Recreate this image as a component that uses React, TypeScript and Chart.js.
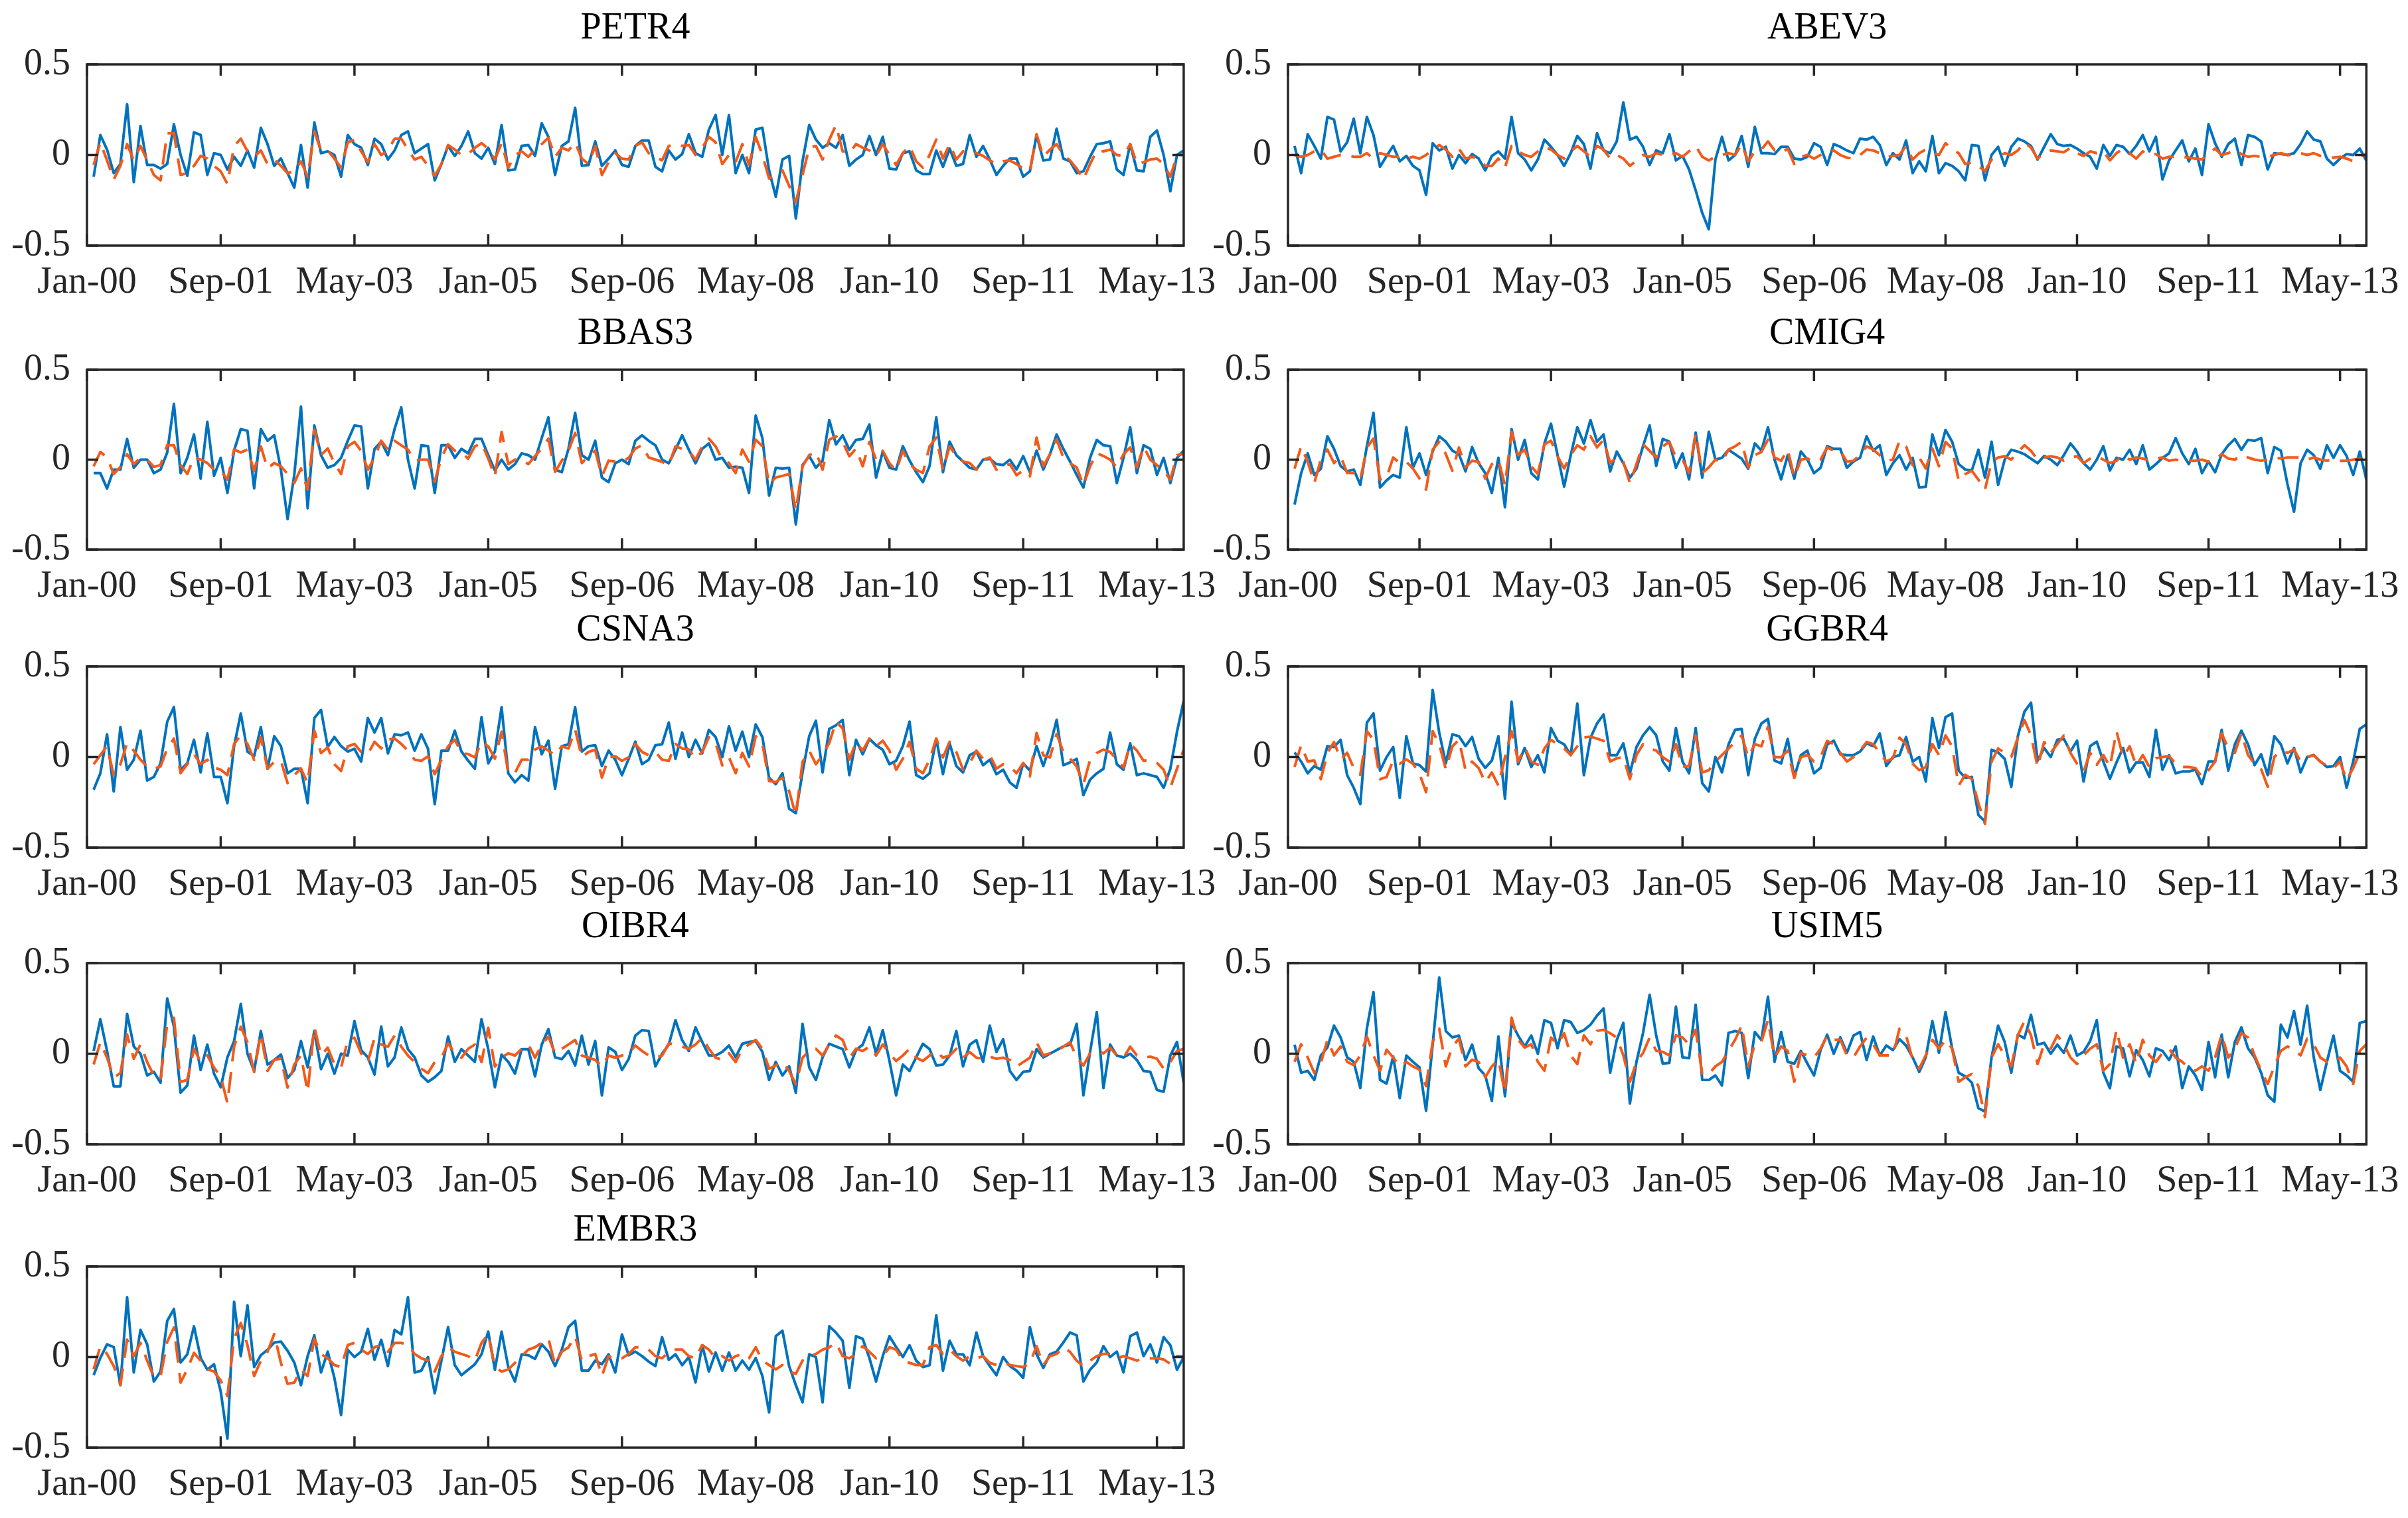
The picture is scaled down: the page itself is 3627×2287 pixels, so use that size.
import React, { useEffect, useRef } from 'react';
import { Chart, registerables } from 'chart.js';

Chart.register(...registerables);

// ---------- data ----------
const xTickMonths = [0, 20, 40, 60, 80, 100, 120, 140, 160];
const xTickLabels = ['Jan-00', 'Sep-01', 'May-03', 'Jan-05', 'Sep-06', 'May-08', 'Jan-10', 'Sep-11', 'May-13'];
const yTickValues = [-0.5, 0, 0.5];
const yTickLabels = ['-0.5', '0', '0.5'];
const xMin = 0;
const xMax = 164;
const firstMonth = 1;

const petr4Actual = [
  -0.12, 0.11, 0.03, -0.10, -0.05, 0.28, -0.15, 0.16, -0.055, -0.055,
  -0.075, -0.05, 0.17, 0.0, -0.115, 0.125, 0.11, -0.11, 0.01, 0.0,
  -0.08, -0.01, -0.06, 0.025, -0.07, 0.15, 0.06, -0.06, -0.02, -0.10,
  -0.18, 0.055, -0.18, 0.18, 0.01, 0.02, 0.0, -0.12, 0.11, 0.06,
  0.04, -0.055, 0.09, 0.06, -0.025, 0.025, 0.11, 0.13, 0.01, 0.035,
  0.06, -0.14, -0.05, 0.05, -0.005, 0.05, 0.13, 0.01, -0.02, 0.04,
  -0.05, 0.165, -0.085, -0.08, 0.05, 0.055, -0.005, 0.175, 0.10, -0.11,
  0.05, 0.075, 0.26, -0.06, -0.055, 0.075, -0.06, -0.02, 0.025, -0.055,
  -0.065, 0.05, 0.08, 0.08, -0.065, -0.09, 0.025, -0.025, 0.005, 0.115,
  0.01, -0.01, 0.14, 0.22, 0.0, 0.22, -0.10, 0.0, -0.10, 0.14,
  0.15, -0.085, -0.23, -0.025, -0.005, -0.35, -0.035, 0.165, 0.085, 0.04,
  0.065, 0.04, 0.11, -0.06, -0.025, 0.0, 0.105, 0.0, 0.10, -0.075,
  -0.08, 0.01, 0.02, -0.085, -0.105, -0.105, 0.025, -0.065, 0.035, -0.06,
  -0.05, 0.11, -0.01, 0.05, -0.025, -0.11, -0.06, -0.02, -0.02, -0.12,
  -0.09, 0.11, -0.03, -0.025, 0.145, -0.02, -0.035, -0.10, -0.09, -0.01,
  0.06, 0.065, 0.075, -0.08, -0.11, 0.06, -0.085, -0.09, 0.10, 0.135,
  0.0, -0.20, 0.0, 0.025,
];
const petr4Model = [
  -0.055, 0.07, -0.03, -0.135, -0.06, 0.06, -0.03, 0.05, -0.03, -0.11,
  -0.14, 0.12, 0.12, -0.11, -0.10, -0.06, -0.005, -0.02, -0.06, -0.09,
  -0.16, 0.05, 0.09, 0.02, -0.01, 0.025, -0.05, -0.025, -0.06, -0.10,
  -0.09, -0.035, -0.12, 0.13, 0.025, 0.025, -0.02, -0.07, 0.07, 0.085,
  0.02, -0.04, 0.06, 0.0, 0.025, 0.09, 0.09, 0.03, -0.025, -0.01,
  -0.06, -0.115, -0.05, 0.055, 0.03, 0.0, 0.005, 0.04, 0.065, 0.035,
  -0.025, 0.065, -0.07, 0.0, 0.02, -0.01, 0.03, 0.06, 0.095, -0.01,
  0.04, 0.025, 0.07, -0.02, -0.05, 0.05, -0.11, -0.04, 0.01, -0.02,
  -0.025, 0.05, 0.07, 0.01, -0.01, -0.03, 0.05, 0.06, 0.05, 0.055,
  0.0, 0.04, 0.10, 0.07, -0.05, 0.0, -0.04, 0.06, -0.055, 0.10,
  0.0, -0.13, -0.11, -0.085, -0.17, -0.26, -0.11, 0.04, 0.05, -0.025,
  0.085, 0.165, 0.02, 0.01, 0.06, 0.04, 0.025, -0.005, 0.06, 0.0,
  -0.055, 0.01, 0.05, -0.035, -0.07, 0.0, 0.085, -0.02, 0.06, -0.025,
  0.02, 0.025, 0.01, -0.005, -0.03, -0.05, -0.035, -0.03, -0.05, -0.075,
  -0.09, 0.115, -0.01, 0.03, 0.06, 0.0, -0.03, -0.075, -0.135, -0.05,
  0.025, 0.02, 0.03, 0.0, -0.005, 0.06, -0.05, -0.04, -0.025, -0.02,
  -0.05, -0.12, 0.0, 0.0,
];

const abev3Actual = [
  0.05, -0.10, 0.115, 0.05, -0.02, 0.21, 0.195, 0.02, 0.07, 0.20,
  0.01, 0.21, 0.11, -0.065, -0.005, 0.05, -0.035, -0.005, -0.06, -0.085,
  -0.22, 0.065, 0.025, 0.045, -0.075, 0.0, -0.045, 0.005, -0.02, -0.085,
  -0.005, 0.02, -0.02, 0.21, 0.01, -0.025, -0.085, -0.025, 0.085, 0.045,
  0.0, -0.06, 0.01, 0.105, 0.06, -0.075, 0.12, 0.025, 0.01, 0.075,
  0.29, 0.085, 0.10, 0.045, -0.055, 0.025, 0.01, 0.115, -0.03, -0.005,
  -0.08, -0.195, -0.32, -0.41, -0.025, 0.10, -0.03, 0.0, 0.105, -0.065,
  0.155, 0.01, 0.01, 0.005, 0.045, 0.045, -0.02, -0.025, -0.01, 0.065,
  0.045, -0.055, 0.06, 0.045, 0.025, 0.01, 0.09, 0.085, 0.10, 0.055,
  -0.055, 0.01, -0.025, 0.08, -0.10, -0.035, -0.09, 0.105, -0.10, -0.045,
  -0.06, -0.09, -0.14, 0.055, 0.05, -0.14, 0.0, 0.045, -0.06, 0.045,
  0.09, 0.075, 0.05, -0.025, 0.045, 0.115, 0.06, 0.05, 0.055, 0.035,
  0.01, -0.01, -0.075, 0.055, -0.005, 0.055, 0.045, 0.005, 0.05, 0.11,
  0.02, 0.10, -0.135, -0.03, 0.025, 0.08, -0.035, 0.035, -0.11, 0.17,
  0.065, -0.01, 0.06, 0.09, -0.055, 0.11, 0.10, 0.075, -0.08, 0.01,
  0.005, 0.0, 0.01, 0.06, 0.13, 0.085, 0.075, -0.02, -0.055, -0.02,
  0.005, 0.0, 0.035, -0.03,
];
const abev3Model = [
  0.0, -0.01, 0.0, 0.02, 0.03, -0.02, -0.01, 0.0, 0.0, -0.01,
  -0.01, 0.01, -0.02, 0.01, 0.0, -0.01, -0.01, -0.02, -0.01, -0.02,
  0.0, 0.03, 0.055, 0.03, -0.01, 0.035, -0.02, -0.01, -0.02, -0.06,
  -0.06, -0.02, -0.07, 0.05, 0.02, 0.0, -0.01, 0.02, 0.045, 0.03,
  0.0, -0.02, 0.02, 0.05, 0.02, -0.01, 0.05, 0.03, -0.02, 0.0,
  -0.02, -0.06, -0.03, 0.0, -0.01, 0.01, 0.0, 0.0, 0.01, -0.01,
  0.02, 0.05, -0.01, -0.03, -0.01, 0.0, 0.01, 0.0, 0.06, -0.035,
  0.02, 0.03, 0.075, 0.025, 0.01, 0.035, -0.05, -0.01, 0.0, -0.02,
  0.0, 0.01, 0.025, 0.0, -0.015, -0.02, 0.0, 0.03, 0.025, 0.01,
  -0.01, -0.005, 0.0, 0.05, -0.025, 0.01, 0.03, 0.01, 0.0, 0.065,
  0.03, 0.01, -0.05, -0.04, -0.06, -0.09, -0.025, -0.01, 0.01, 0.0,
  0.025, 0.07, 0.04, -0.02, 0.01, 0.025, 0.02, 0.015, 0.04, 0.01,
  -0.005, 0.02, 0.01, 0.02, -0.03, 0.01, 0.035, 0.01, -0.02, 0.02,
  0.0, 0.005, -0.02, -0.01, -0.01, -0.01, -0.015, -0.02, -0.025, 0.01,
  0.035, 0.0, 0.01, 0.03, 0.005, -0.01, -0.005, -0.01, -0.01, 0.0,
  0.01, 0.0, 0.0, 0.01, 0.0, 0.01, -0.005, -0.01, -0.015, -0.01,
  -0.02, -0.035, -0.01, 0.005,
];

const bbas3Actual = [
  -0.075, -0.075, -0.16, -0.055, -0.055, 0.115, -0.045, 0.0, 0.0, -0.075,
  -0.055, 0.04, 0.31, -0.075, 0.01, 0.14, -0.105, 0.21, -0.09, 0.01,
  -0.185, 0.05, 0.17, 0.16, -0.16, 0.17, 0.105, 0.135, -0.055, -0.33,
  -0.085, 0.295, -0.27, 0.19, 0.025, -0.045, -0.03, 0.01, 0.105, 0.19,
  0.185, -0.16, 0.06, 0.10, 0.025, 0.17, 0.29, 0.0, -0.16, 0.08,
  0.075, -0.185, 0.08, 0.08, 0.01, 0.06, 0.035, 0.115, 0.115, 0.025,
  -0.06, 0.0, -0.055, -0.025, 0.035, 0.025, 0.0, 0.12, 0.235, -0.055,
  -0.07, 0.06, 0.26, 0.025, 0.0, 0.105, -0.10, -0.125, -0.02, 0.0,
  -0.025, 0.105, 0.135, 0.105, 0.08, 0.0, -0.02, 0.055, 0.135, 0.055,
  -0.02, 0.06, 0.09, 0.0, 0.01, -0.045, -0.04, -0.045, -0.185, 0.245,
  0.12, -0.20, -0.045, -0.05, -0.045, -0.36, -0.03, 0.02, -0.045, -0.005,
  0.22, 0.085, 0.135, 0.055, 0.11, 0.115, 0.195, -0.10, 0.045, -0.045,
  -0.055, 0.075, -0.005, -0.07, -0.125, -0.035, 0.235, -0.07, 0.10, 0.025,
  -0.01, -0.045, -0.055, 0.0, 0.005, -0.025, -0.03, 0.0, -0.055, 0.02,
  -0.07, 0.05, -0.055, 0.03, 0.14, 0.06, -0.01, -0.085, -0.155, 0.01,
  0.11, 0.08, 0.075, -0.13, 0.01, 0.18, -0.075, 0.08, 0.06, -0.085,
  0.01, -0.13, 0.01, 0.05,
];
const bbas3Model = [
  -0.037, 0.043, 0.012, -0.08, -0.04, 0.03, -0.025, 0.01, 0.0, -0.04,
  -0.03, 0.08, 0.08, -0.03, -0.08, 0.012, 0.0, -0.019, -0.056, -0.06,
  -0.111, 0.056, 0.04, 0.056, -0.062, 0.074, -0.049, -0.019, -0.037, -0.08,
  -0.13, -0.049, -0.167, 0.167, 0.025, 0.062, -0.02, -0.08, 0.074, 0.099,
  0.049, -0.056, 0.012, 0.105, 0.056, 0.105, 0.08, 0.056, -0.006, 0.0,
  0.0, -0.123, 0.012, 0.086, 0.05, 0.037, 0.006, 0.074, 0.093, 0.006,
  -0.093, 0.154, -0.025, 0.0, 0.0, -0.025, 0.02, 0.062, 0.117, -0.068,
  -0.006, 0.049, 0.148, -0.019, 0.02, 0.049, -0.093, -0.006, -0.01, -0.012,
  0.01, 0.062, 0.08, 0.012, 0.0, -0.012, -0.031, 0.074, 0.06, 0.049,
  0.0, 0.074, 0.117, 0.074, 0.0, -0.019, -0.074, 0.056, -0.012, 0.111,
  0.074, -0.136, -0.099, -0.09, -0.08, -0.284, -0.037, 0.025, 0.043, -0.056,
  0.111, 0.13, 0.099, 0.019, 0.062, -0.037, 0.099, 0.0, 0.049, -0.02,
  -0.062, 0.049, -0.025, -0.056, -0.074, 0.074, 0.123, -0.056, 0.074, 0.019,
  -0.01, -0.019, -0.056, 0.0, 0.012, -0.056, -0.037, -0.025, -0.086, -0.06,
  -0.093, 0.123, -0.037, 0.03, 0.111, 0.012, -0.02, -0.043, -0.142, -0.037,
  0.037, 0.02, 0.0, -0.043, 0.03, 0.068, -0.043, 0.074, 0.0, -0.031,
  -0.06, -0.111, 0.025, 0.031,
];

const cmig4Actual = [
  -0.25, -0.075, 0.035, -0.085, -0.05, 0.13, 0.06, -0.035, -0.065, -0.055,
  -0.14, 0.075, 0.26, -0.155, -0.115, -0.085, -0.10, 0.18, -0.045, 0.035,
  -0.085, 0.045, 0.13, 0.10, 0.05, 0.03, -0.065, 0.07, -0.02, -0.075,
  -0.185, 0.01, -0.265, 0.17, 0.0, 0.11, -0.075, -0.11, 0.09, 0.20,
  0.025, -0.15, 0.025, 0.18, 0.09, 0.22, 0.10, 0.14, -0.065, 0.045,
  -0.02, -0.10, -0.05, 0.075, 0.19, -0.035, 0.115, 0.10, -0.045, 0.035,
  -0.11, 0.15, -0.10, 0.155, 0.0, 0.01, 0.055, 0.03, 0.005, -0.05,
  0.09, 0.05, 0.18, 0.0, -0.11, 0.025, -0.105, 0.045, 0.0, -0.075,
  -0.045, 0.075, 0.06, 0.06, -0.045, -0.01, 0.01, 0.13, 0.05, 0.08,
  -0.085, -0.02, 0.025, -0.055, 0.01, -0.155, -0.15, 0.14, 0.025, 0.165,
  0.10, -0.025, -0.055, -0.06, 0.055, -0.10, 0.10, -0.14, 0.0, 0.055,
  0.045, 0.03, 0.005, -0.02, 0.02, 0.0, -0.03, 0.025, 0.09, 0.045,
  -0.02, -0.055, 0.0, 0.075, -0.06, 0.01, 0.0, 0.055, -0.025, 0.08,
  -0.055, -0.025, 0.01, 0.035, 0.12, 0.035, -0.025, 0.06, -0.075, -0.01,
  -0.07, 0.03, 0.08, 0.115, 0.055, 0.11, 0.105, 0.12, -0.075, 0.07,
  0.05, -0.135, -0.29, -0.02, 0.055, 0.025, -0.05, 0.08, 0.01, 0.08,
  0.02, -0.085, 0.045, -0.11,
];
const cmig4Model = [
  -0.05, 0.074, -0.012, -0.13, 0.0, 0.056, -0.019, 0.019, -0.074, -0.074,
  -0.111, 0.068, 0.117, -0.111, -0.099, 0.012, -0.019, -0.012, -0.049, -0.105,
  -0.167, 0.056, 0.099, 0.031, -0.062, 0.068, -0.043, -0.006, -0.012, -0.105,
  -0.025, 0.0, -0.142, 0.154, 0.025, 0.056, -0.037, -0.08, 0.086, 0.105,
  0.019, -0.049, 0.025, 0.08, 0.056, 0.13, 0.068, 0.111, -0.019, 0.012,
  -0.012, -0.13, -0.025, 0.086, 0.049, 0.012, 0.074, 0.099, 0.012, 0.0,
  -0.074, 0.148, -0.074, -0.043, 0.0, -0.012, 0.056, 0.074, 0.099, -0.043,
  0.025, 0.043, 0.111, 0.012, -0.006, 0.056, -0.099, 0.0, 0.006, -0.012,
  0.0, 0.068, 0.049, 0.049, -0.012, -0.006, 0.025, 0.074, 0.056, 0.025,
  -0.006, 0.0, 0.105, 0.074, -0.031, 0.012, -0.049, 0.062, -0.037, 0.099,
  0.062, -0.117, -0.08, -0.062, -0.111, -0.167, -0.012, 0.012, 0.019, 0.0,
  0.043, 0.08, 0.049, 0.0, 0.012, 0.019, 0.012, -0.006, 0.012, 0.019,
  -0.019, 0.006, 0.019, 0.0, -0.019, -0.006, 0.025, 0.0, 0.012, 0.006,
  -0.006, 0.006, 0.012, -0.006, 0.0, -0.006, -0.006, -0.006, 0.0, -0.012,
  0.0, 0.031, 0.006, 0.0, 0.025, 0.012, 0.0, -0.006, 0.0, 0.012,
  0.006, 0.012, 0.012, 0.012, 0.0, 0.012, 0.0, -0.006, 0.0, -0.006,
  -0.006, 0.0, 0.006, 0.012,
];

const csna3Actual = [
  -0.18, -0.09, 0.125, -0.19, 0.165, -0.07, -0.015, 0.145, -0.13, -0.11,
  -0.035, 0.195, 0.275, -0.07, -0.035, 0.095, -0.085, 0.13, -0.11, -0.11,
  -0.255, 0.06, 0.24, 0.03, 0.005, 0.165, -0.065, 0.115, 0.06, -0.09,
  -0.065, -0.065, -0.255, 0.215, 0.26, 0.055, 0.11, 0.06, 0.03, 0.045,
  -0.025, 0.215, 0.135, 0.215, 0.02, 0.125, 0.12, 0.135, 0.035, 0.125,
  0.045, -0.26, 0.035, 0.035, 0.145, 0.03, -0.02, -0.065, 0.22, -0.035,
  0.03, 0.275, -0.09, -0.14, -0.10, -0.13, 0.165, 0.015, 0.09, -0.175,
  0.06, 0.07, 0.275, 0.03, 0.06, 0.065, -0.05, 0.035, -0.015, -0.10,
  -0.01, 0.085, -0.04, -0.015, 0.065, 0.07, 0.19, -0.01, 0.135, 0.0,
  0.095, 0.02, 0.15, 0.11, 0.0, 0.17, 0.035, 0.14, 0.0, 0.18,
  0.11, -0.115, -0.15, -0.09, -0.285, -0.31, -0.085, 0.115, 0.20, -0.085,
  0.155, 0.175, 0.205, -0.10, 0.095, 0.015, 0.10, 0.065, 0.04, -0.04,
  -0.02, 0.06, 0.195, -0.10, -0.12, -0.09, 0.10, -0.095, 0.075, -0.05,
  -0.085, 0.01, 0.03, -0.045, -0.015, -0.095, -0.07, -0.14, -0.17, -0.035,
  -0.075, 0.06, -0.05, 0.06, 0.205, -0.045, -0.03, -0.01, -0.21, -0.125,
  -0.09, -0.065, 0.135, -0.04, -0.07, 0.075, -0.10, -0.09, -0.10, -0.11,
  -0.17, -0.065, 0.14, 0.31,
];
const csna3Model = [
  -0.04, 0.01, 0.06, -0.10, -0.04, 0.078, 0.035, -0.015, -0.052, -0.064,
  -0.052, 0.047, 0.102, -0.089, -0.04, 0.016, -0.04, -0.015, -0.058, -0.07,
  -0.10, 0.072, 0.121, 0.072, -0.015, 0.109, -0.064, -0.027, -0.021, -0.144,
  -0.10, -0.064, -0.144, 0.146, 0.022, 0.053, -0.04, -0.077, 0.059, 0.072,
  0.028, 0.016, 0.084, 0.047, 0.096, 0.102, 0.072, 0.035, -0.015, -0.021,
  0.004, -0.095, -0.015, 0.059, 0.096, 0.022, 0.016, -0.002, 0.084, 0.059,
  -0.009, 0.14, -0.089, -0.089, -0.015, -0.015, 0.041, 0.059, 0.035, 0.01,
  0.059, 0.047, 0.152, -0.002, 0.028, 0.041, -0.114, -0.002, 0.004, -0.021,
  -0.002, 0.072, 0.028, 0.01, 0.028, -0.015, -0.021, 0.072, 0.047, 0.041,
  -0.009, 0.028, 0.109, 0.078, -0.046, -0.002, -0.089, 0.022, -0.052, 0.115,
  0.072, -0.132, -0.138, -0.114, -0.188, -0.323, -0.027, 0.035, -0.04, 0.01,
  0.078, 0.195, 0.158, -0.015, 0.084, 0.035, 0.102, 0.059, 0.09, 0.035,
  -0.07, -0.009, 0.084, -0.064, -0.089, -0.015, 0.102, -0.002, 0.084, 0.028,
  -0.07, -0.033, 0.035, -0.009, 0.01, -0.064, -0.04, -0.052, -0.089, -0.033,
  -0.107, 0.133, 0.01, -0.002, 0.127, 0.028, -0.009, -0.052, -0.151, -0.015,
  0.022, 0.041, 0.028, -0.015, -0.058, 0.072, 0.035, -0.021, -0.015, -0.033,
  -0.07, -0.169, -0.064, 0.041,
];

const ggbr4Actual = [
  0.025, -0.025, -0.09, -0.05, -0.07, 0.06, 0.055, 0.095, -0.10, -0.17,
  -0.26, 0.19, 0.24, -0.075, 0.0, 0.055, -0.225, 0.115, -0.035, -0.045,
  -0.08, 0.37, 0.135, -0.035, 0.125, 0.115, 0.06, 0.11, -0.01, -0.06,
  -0.02, 0.115, -0.23, 0.305, -0.04, 0.05, -0.055, 0.01, -0.085, 0.16,
  0.09, 0.07, 0.01, 0.295, -0.10, 0.105, 0.185, 0.235, 0.01, 0.01,
  0.075, -0.09, 0.055, 0.12, 0.165, 0.12, -0.025, -0.075, 0.16, -0.025,
  -0.09, 0.16, -0.145, -0.19, 0.0, -0.085, 0.07, 0.15, 0.155, -0.10,
  0.10, 0.185, 0.21, -0.02, -0.035, 0.10, -0.11, 0.01, 0.035, -0.09,
  -0.06, 0.07, 0.09, 0.015, 0.01, 0.01, 0.03, 0.075, 0.06, 0.13,
  -0.05, 0.0, 0.01, 0.11, -0.025, 0.0, -0.135, 0.215, 0.05, 0.22,
  0.24, -0.075, -0.115, -0.11, -0.32, -0.355, 0.04, 0.025, -0.01, -0.165,
  0.115, 0.25, 0.30, -0.02, 0.05, 0.0, 0.095, 0.10, 0.03, 0.09,
  -0.135, 0.06, 0.085, -0.025, -0.12, -0.03, 0.05, -0.085, -0.03, -0.03,
  -0.11, 0.15, -0.07, 0.01, -0.09, -0.08, -0.08, -0.07, -0.15, -0.025,
  -0.025, 0.15, -0.075, 0.07, 0.145, 0.07, -0.045, 0.015, -0.10, 0.115,
  0.07, -0.035, 0.05, -0.085, 0.0, 0.01, -0.025, -0.055, -0.05, 0.0,
  -0.17, -0.025, 0.155, 0.18,
];
const ggbr4Model = [
  -0.055, 0.065, -0.025, -0.019, -0.122, 0.023, 0.083, -0.013, 0.023, -0.061,
  -0.098, 0.143, 0.095, -0.122, -0.11, -0.019, -0.037, -0.013, -0.037, -0.092,
  -0.194, 0.143, 0.071, -0.067, 0.059, 0.095, -0.073, -0.025, -0.061, -0.14,
  -0.086, -0.158, -0.001, 0.143, -0.025, 0.053, -0.025, -0.043, 0.047, 0.095,
  0.071, 0.047, 0.011, 0.059, 0.107, 0.113, 0.101, 0.089, -0.025, -0.007,
  -0.001, -0.122, 0.011, 0.071, 0.047, 0.035, -0.001, -0.025, 0.071, -0.055,
  -0.049, 0.119, -0.086, -0.073, -0.025, 0.011, 0.047, 0.083, 0.119, -0.001,
  0.071, 0.059, 0.167, -0.001, -0.001, 0.035, -0.116, 0.0, 0.011, -0.025,
  0.0, 0.089, 0.071, 0.023, -0.025, 0.0, 0.035, 0.083, 0.071, 0.023,
  -0.025, -0.007, 0.107, 0.071, -0.037, -0.073, -0.055, 0.071, 0.011, 0.119,
  0.059, -0.158, -0.098, -0.122, -0.254, -0.369, -0.025, 0.047, 0.023, 0.0,
  0.107, 0.204, 0.119, -0.055, 0.083, 0.023, 0.071, 0.119, 0.023, -0.037,
  -0.08, 0.023, -0.043, 0.011, -0.055, 0.143, 0.0, 0.059, -0.049, 0.011,
  -0.055, -0.007, 0.0, 0.005, -0.037, -0.055, -0.055, -0.061, -0.11, -0.073,
  -0.025, 0.131, 0.047, 0.023, 0.131, 0.011, -0.037, -0.067, -0.164, 0.0,
  0.035, 0.023, 0.041, -0.025, 0.0, 0.011, -0.025, -0.049, -0.061, -0.025,
  -0.128, -0.061, 0.023, 0.0,
];

const oibr4Actual = [
  0.015, 0.19, 0.015, -0.18, -0.18, 0.22, 0.04, 0.0, -0.12, -0.10,
  -0.16, 0.305, 0.15, -0.215, -0.175, 0.10, -0.09, 0.05, -0.11, -0.185,
  -0.02, 0.07, 0.275, 0.0, -0.095, 0.125, -0.06, -0.035, -0.005, -0.135,
  -0.09, 0.07, -0.075, 0.125, -0.085, 0.0, -0.11, 0.0, -0.01, 0.18,
  0.02, -0.02, -0.115, 0.15, -0.07, -0.02, 0.145, 0.025, -0.02, -0.12,
  -0.155, -0.13, -0.095, 0.095, -0.045, 0.025, -0.01, -0.045, 0.19, 0.025,
  -0.185, -0.005, -0.045, -0.11, 0.025, 0.025, -0.125, 0.05, 0.135, -0.02,
  -0.03, 0.015, -0.065, 0.10, -0.06, 0.07, -0.23, 0.035, 0.01, -0.09,
  -0.03, 0.10, 0.13, 0.125, -0.07, 0.0, 0.05, 0.185, 0.075, 0.015,
  0.145, 0.065, -0.01, -0.01, 0.01, 0.045, -0.02, 0.055, 0.065, 0.07,
  0.01, -0.145, -0.045, -0.12, -0.07, -0.215, 0.165, -0.075, -0.145, -0.02,
  0.055, 0.04, 0.025, -0.075, 0.02, 0.05, 0.145, 0.0, 0.13, -0.04,
  -0.23, -0.06, -0.095, -0.02, 0.055, 0.025, -0.065, -0.06, -0.01, 0.125,
  -0.07, 0.05, 0.075, -0.045, 0.155, 0.01, 0.08, -0.095, -0.145, -0.10,
  -0.095, 0.025, -0.02, 0.0, 0.02, 0.04, 0.05, 0.165, -0.23, 0.01,
  0.23, -0.19, 0.05, -0.01, -0.02, 0.0, -0.035, -0.095, -0.10, -0.20,
  -0.21, -0.01, 0.065, -0.16,
];
const oibr4Model = [
  -0.059, 0.063, -0.022, -0.132, -0.107, 0.106, -0.028, 0.051, -0.046, -0.12,
  -0.144, 0.167, 0.198, -0.156, -0.144, 0.027, -0.046, -0.01, -0.077, -0.126,
  -0.272, 0.039, 0.149, 0.063, -0.101, 0.112, -0.095, -0.034, -0.028, -0.187,
  -0.059, -0.01, -0.211, 0.149, -0.01, 0.033, -0.059, -0.077, 0.076, 0.088,
  0.002, -0.046, 0.088, 0.051, 0.039, 0.10, 0.039, -0.01, -0.046, -0.083,
  -0.107, -0.046, -0.022, 0.057, 0.002, -0.022, 0.027, 0.051, -0.046, 0.143,
  -0.071, -0.022, 0.002, -0.01, 0.027, 0.051, -0.022, 0.051, 0.094, 0.002,
  0.027, 0.051, 0.076, -0.01, -0.022, -0.034, -0.071, -0.01, -0.022, -0.01,
  0.002, 0.045, 0.015, -0.01, -0.022, -0.01, 0.057, 0.051, 0.039, 0.027,
  0.051, 0.088, 0.027, -0.022, -0.034, 0.002, -0.046, 0.027, 0.051, 0.076,
  0.027, -0.083, -0.065, -0.046, -0.095, -0.168, -0.022, 0.015, 0.027, -0.01,
  0.051, 0.10, 0.076, -0.022, 0.027, 0.015, 0.039, -0.01, 0.051, 0.002,
  -0.04, -0.01, 0.027, -0.022, -0.04, -0.01, 0.015, -0.022, -0.01, 0.027,
  -0.022, 0.009, -0.022, -0.028, -0.016, -0.028, -0.022, -0.034, -0.071, -0.046,
  -0.022, 0.063, -0.01, 0.002, 0.015, 0.039, 0.063, -0.022, -0.065, 0.002,
  0.015, 0.002, 0.033, -0.01, -0.022, 0.039, -0.01, -0.022, -0.016, -0.028,
  -0.083, -0.046, 0.015, 0.027,
];

const usim5Actual = [
  0.05, -0.105, -0.095, -0.145, -0.01, 0.035, 0.155, 0.09, -0.02, -0.045,
  -0.19, 0.14, 0.34, -0.145, -0.165, -0.015, -0.245, -0.01, -0.045, -0.075,
  -0.315, 0.05, 0.42, 0.125, 0.09, 0.10, -0.035, 0.05, -0.08, -0.12,
  -0.26, 0.095, -0.235, 0.17, 0.10, 0.04, 0.10, 0.0, 0.185, 0.17,
  0.03, 0.185, 0.175, 0.115, 0.13, 0.16, 0.21, 0.25, -0.105, 0.075,
  0.17, -0.275, -0.045, 0.115, 0.325, 0.10, -0.055, -0.05, 0.26, -0.02,
  -0.025, 0.27, -0.145, -0.145, -0.12, -0.175, 0.115, 0.125, 0.115, -0.135,
  0.12, 0.075, 0.315, -0.045, 0.12, -0.045, -0.055, 0.015, -0.055, -0.12,
  0.02, 0.105, 0.0, 0.09, 0.005, 0.10, 0.12, -0.035, 0.095, -0.01,
  0.045, 0.02, 0.08, 0.045, -0.02, -0.10, -0.02, 0.18, 0.005, 0.23,
  0.03, -0.105, -0.125, -0.16, -0.30, -0.32, -0.02, 0.155, 0.065, -0.105,
  0.105, 0.085, 0.215, 0.05, 0.06, 0.0, 0.05, 0.005, 0.10, -0.01,
  0.01, 0.07, 0.185, -0.105, -0.19, 0.04, 0.03, -0.125, 0.02, -0.035,
  -0.125, 0.03, 0.015, -0.035, 0.04, -0.19, -0.07, -0.12, -0.20, 0.065,
  -0.13, 0.105, -0.13, 0.065, 0.145, 0.03, -0.02, -0.105, -0.23, -0.265,
  0.16, 0.09, 0.235, 0.05, 0.265, -0.02, -0.20, -0.045, 0.10, -0.095,
  -0.12, -0.155, 0.17, 0.18,
];
const usim5Model = [
  -0.045, 0.052, -0.021, -0.106, -0.051, 0.077, -0.009, 0.04, -0.045, -0.063,
  -0.009, 0.095, -0.009, -0.094, 0.022, -0.021, -0.07, -0.045, -0.07, -0.088,
  -0.179, 0.065, 0.138, -0.07, 0.04, 0.083, -0.07, -0.033, -0.045, -0.13,
  -0.07, -0.033, -0.216, 0.199, 0.077, 0.034, 0.052, -0.045, -0.094, 0.089,
  0.052, 0.113, -0.009, -0.057, 0.101, 0.052, 0.126, 0.132, 0.113, 0.089,
  -0.009, -0.155, -0.045, 0.004, 0.089, 0.016, 0.01, -0.009, 0.101, 0.089,
  0.052, 0.132, -0.112, -0.112, -0.07, -0.045, 0.016, 0.077, 0.156, -0.07,
  0.052, 0.065, 0.187, -0.021, 0.04, 0.016, -0.155, 0.004, -0.009, -0.021,
  0.028, 0.101, 0.077, 0.077, -0.009, -0.021, 0.04, 0.089, 0.052, -0.009,
  -0.009, -0.009, 0.138, 0.101, -0.033, -0.082, -0.009, 0.077, 0.028, 0.077,
  0.028, -0.155, -0.13, -0.112, -0.179, -0.35, -0.021, 0.052, -0.009, -0.07,
  0.101, 0.18, 0.101, -0.057, 0.052, 0.028, 0.101, 0.052, -0.021, -0.057,
  -0.009, 0.028, 0.052, -0.094, -0.057, 0.132, -0.021, 0.052, -0.057, 0.077,
  -0.009, -0.045, 0.004, 0.028, -0.021, -0.045, -0.076, -0.094, -0.07, -0.094,
  -0.021, 0.107, -0.021, 0.028, 0.113, 0.089, -0.009, -0.094, -0.167, -0.07,
  0.016, 0.04, 0.022, -0.009, 0.083, 0.052, -0.021, -0.045, -0.045, -0.021,
  -0.07, -0.167, 0.016, 0.052,
];

const embr3Actual = [
  -0.10, -0.005, 0.07, 0.055, -0.155, 0.33, -0.085, 0.15, 0.07, -0.135,
  -0.08, 0.20, 0.265, -0.03, 0.015, 0.17, -0.005, -0.07, -0.04, -0.19,
  -0.45, 0.305, 0.005, 0.285, -0.055, 0.01, 0.04, 0.08, 0.085, 0.035,
  -0.03, -0.155, 0.005, 0.12, -0.085, 0.03, -0.115, -0.32, 0.04, 0.0,
  0.03, 0.155, -0.015, 0.095, -0.05, 0.15, 0.125, 0.33, -0.085, -0.075,
  0.0, -0.20, -0.02, 0.165, -0.045, -0.10, -0.07, -0.04, 0.015, 0.14,
  -0.07, 0.14, -0.055, -0.135, 0.015, 0.01, -0.01, 0.07, 0.03, -0.05,
  0.04, 0.165, 0.20, -0.075, -0.075, -0.02, -0.04, 0.015, -0.085, 0.125,
  0.01, 0.03, 0.005, -0.025, -0.05, 0.11, -0.015, 0.015, -0.045, 0.0,
  -0.14, 0.065, -0.08, 0.025, -0.075, 0.025, -0.075, -0.02, -0.07, -0.005,
  -0.105, -0.305, 0.115, 0.145, -0.05, -0.155, -0.25, 0.015, 0.0, -0.25,
  0.17, 0.135, 0.09, -0.17, 0.115, 0.10, -0.005, -0.135, 0.005, 0.115,
  0.055, 0.0, 0.065, -0.02, -0.055, -0.045, 0.23, -0.075, 0.09, 0.015,
  0.015, -0.045, 0.135, 0.005, -0.05, -0.10, 0.0, -0.05, -0.075, -0.115,
  0.165, 0.015, -0.06, 0.015, 0.03, 0.08, 0.135, 0.12, -0.135, -0.07,
  -0.03, 0.06, 0.0, 0.03, -0.085, 0.115, 0.135, 0.005, 0.07, -0.03,
  0.11, 0.065, -0.07, 0.0,
];
const embr3Model = [
  -0.068, 0.06, 0.017, -0.05, -0.154, 0.096, 0.005, 0.078, -0.02, -0.111,
  -0.105, 0.084, 0.163, -0.141, -0.068, 0.023, -0.02, -0.068, -0.08, -0.129,
  -0.215, 0.102, 0.188, 0.066, -0.105, -0.02, 0.029, 0.127, -0.032, -0.148,
  -0.141, -0.068, -0.105, 0.102, 0.017, -0.007, -0.044, -0.056, 0.066, 0.078,
  0.041, 0.017, 0.054, 0.066, 0.029, 0.078, 0.078, 0.066, 0.017, -0.007,
  -0.02, -0.08, 0.005, 0.054, 0.029, 0.017, 0.005, -0.02, 0.078, 0.127,
  -0.056, -0.08, -0.068, -0.032, 0.005, 0.041, 0.054, 0.078, 0.102, -0.044,
  0.029, 0.054, 0.115, -0.02, 0.005, 0.017, -0.105, 0.005, -0.013, -0.007,
  0.017, 0.054, 0.054, 0.041, 0.005, -0.007, 0.029, 0.041, 0.041, 0.005,
  -0.007, 0.066, 0.041, -0.007, 0.005, -0.02, 0.005, 0.017, -0.007, 0.054,
  -0.02, -0.044, -0.068, -0.044, -0.08, -0.093, -0.02, 0.005, 0.017, 0.041,
  0.054, 0.078, 0.005, -0.007, 0.017, 0.06, 0.029, -0.007, 0.005, 0.054,
  0.041, -0.02, -0.032, -0.044, -0.044, 0.054, 0.066, 0.017, 0.041, 0.005,
  -0.02, 0.005, -0.007, 0.005, -0.032, -0.044, -0.032, -0.044, -0.05, -0.056,
  -0.032, 0.06, -0.044, 0.005, 0.017, 0.054, 0.029, -0.02, -0.05, -0.02,
  0.005, 0.017, 0.017, -0.007, 0.005, -0.007, -0.02, -0.007, -0.007, -0.007,
  -0.013, -0.038, 0.005, 0.005,
];

const panelTitles = ['PETR4', 'ABEV3', 'BBAS3', 'CMIG4', 'CSNA3', 'GGBR4', 'OIBR4', 'USIM5', 'EMBR3'];
const panelActual = [petr4Actual, abev3Actual, bbas3Actual, cmig4Actual, csna3Actual, ggbr4Actual, oibr4Actual, usim5Actual, embr3Actual];
const panelModel = [petr4Model, abev3Model, bbas3Model, cmig4Model, csna3Model, ggbr4Model, oibr4Model, usim5Model, embr3Model];

// ---------- layout / style ----------
const COLS = [
  { left: 131, right: 1786 },
  { left: 1940, right: 3568 },
];
const ROWS = [
  { top: 97, bottom: 370 },
  { top: 557, bottom: 828 },
  { top: 1004, bottom: 1277 },
  { top: 1451, bottom: 1724 },
  { top: 1908, bottom: 2181 },
];
const PAD_L = 132;
const PAD_T = 97;
const PAD_R = 70;
const PAD_B = 100;
const FONT = "'Liberation Serif', 'Times New Roman', Times, serif";
const AXIS_COLOR = '#262626';
const BLUE = '#0072BD';
const ORANGE = '#F25A1A';

const axesPlugin = (title: string) => ({
  id: 'matlabAxes',
  afterDatasetsDraw(chart: any) {
    const { ctx, chartArea: a, scales } = chart;
    ctx.save();
    ctx.strokeStyle = AXIS_COLOR;
    ctx.lineWidth = 3.5;
    ctx.lineCap = 'butt';
    ctx.strokeRect(a.left, a.top, a.right - a.left, a.bottom - a.top);
    ctx.beginPath();
    const tl = 17;
    for (const v of xTickMonths) {
      const px = scales.x.getPixelForValue(v);
      ctx.moveTo(px, a.bottom);
      ctx.lineTo(px, a.bottom - tl);
      ctx.moveTo(px, a.top);
      ctx.lineTo(px, a.top + tl);
    }
    for (const v of yTickValues) {
      const py = scales.y.getPixelForValue(v);
      ctx.moveTo(a.left, py);
      ctx.lineTo(a.left + tl, py);
      ctx.moveTo(a.right, py);
      ctx.lineTo(a.right - tl, py);
    }
    ctx.stroke();
    ctx.fillStyle = '#000000';
    ctx.font = `56px ${FONT}`;
    ctx.textAlign = 'center';
    ctx.textBaseline = 'alphabetic';
    ctx.fillText(title, (a.left + a.right) / 2, a.top - 39);
    ctx.restore();
  },
});

function Panel({ index }: { index: number }) {
  const ref = useRef<HTMLCanvasElement | null>(null);
  const col = COLS[index % 2];
  const row = ROWS[Math.floor(index / 2)];
  const width = col.right - col.left + PAD_L + PAD_R;
  const height = row.bottom - row.top + PAD_T + PAD_B;

  useEffect(() => {
    if (!ref.current) return;
    const actual = panelActual[index];
    const model = panelModel[index];
    const chart = new Chart(ref.current, {
      type: 'line',
      data: {
        datasets: [
          {
            label: 'model',
            data: model.map((v, i) => ({ x: firstMonth + i, y: v })),
            borderColor: ORANGE,
            borderWidth: 4,
            borderDash: [32, 16],
            borderJoinStyle: 'round',
            pointRadius: 0,
            tension: 0,
            fill: false,
          },
          {
            label: 'actual',
            data: actual.map((v, i) => ({ x: firstMonth + i, y: v })),
            borderColor: BLUE,
            borderWidth: 4,
            borderJoinStyle: 'round',
            pointRadius: 0,
            tension: 0,
            fill: false,
          },
        ],
      },
      options: {
        animation: false,
        responsive: false,
        devicePixelRatio: 1,
        events: [],
        layout: { padding: { left: 0, top: PAD_T, right: PAD_R, bottom: 0 } },
        plugins: {
          legend: { display: false },
          tooltip: { enabled: false },
          title: { display: false },
        },
        scales: {
          x: {
            type: 'linear',
            min: xMin,
            max: xMax,
            grid: { display: false, drawTicks: false },
            border: { display: false },
            afterBuildTicks: (s: any) => {
              s.ticks = xTickMonths.map((v) => ({ value: v }));
            },
            afterFit: (s: any) => {
              s.height = PAD_B;
            },
            ticks: {
              autoSkip: false,
              maxRotation: 0,
              minRotation: 0,
              padding: 23,
              color: AXIS_COLOR,
              font: { family: FONT, size: 56 },
              callback: (v: any) => {
                const k = xTickMonths.indexOf(Number(v));
                return k >= 0 ? xTickLabels[k] : '';
              },
            },
          },
          y: {
            type: 'linear',
            min: -0.5,
            max: 0.5,
            grid: { display: false, drawTicks: false },
            border: { display: false },
            afterBuildTicks: (s: any) => {
              s.ticks = yTickValues.map((v) => ({ value: v }));
            },
            afterFit: (s: any) => {
              s.width = PAD_L;
            },
            ticks: {
              padding: 25,
              color: AXIS_COLOR,
              font: { family: FONT, size: 56 },
              callback: (v: any) => {
                const k = yTickValues.indexOf(Number(v));
                return k >= 0 ? yTickLabels[k] : '';
              },
            },
          },
        },
      } as any,
      plugins: [axesPlugin(panelTitles[index])],
    });
    return () => chart.destroy();
  }, [index]);

  return (
    <canvas
      ref={ref}
      width={width}
      height={height}
      style={{
        position: 'absolute',
        left: col.left - PAD_L,
        top: row.top - PAD_T,
        width,
        height,
      }}
    />
  );
}

export default function App() {
  return (
    <div
      style={{
        position: 'absolute',
        left: 0,
        top: 0,
        width: 3627,
        height: 2287,
        background: '#ffffff',
        overflow: 'hidden',
      }}
    >
      {panelTitles.map((_, i) => (
        <Panel key={i} index={i} />
      ))}
    </div>
  );
}
